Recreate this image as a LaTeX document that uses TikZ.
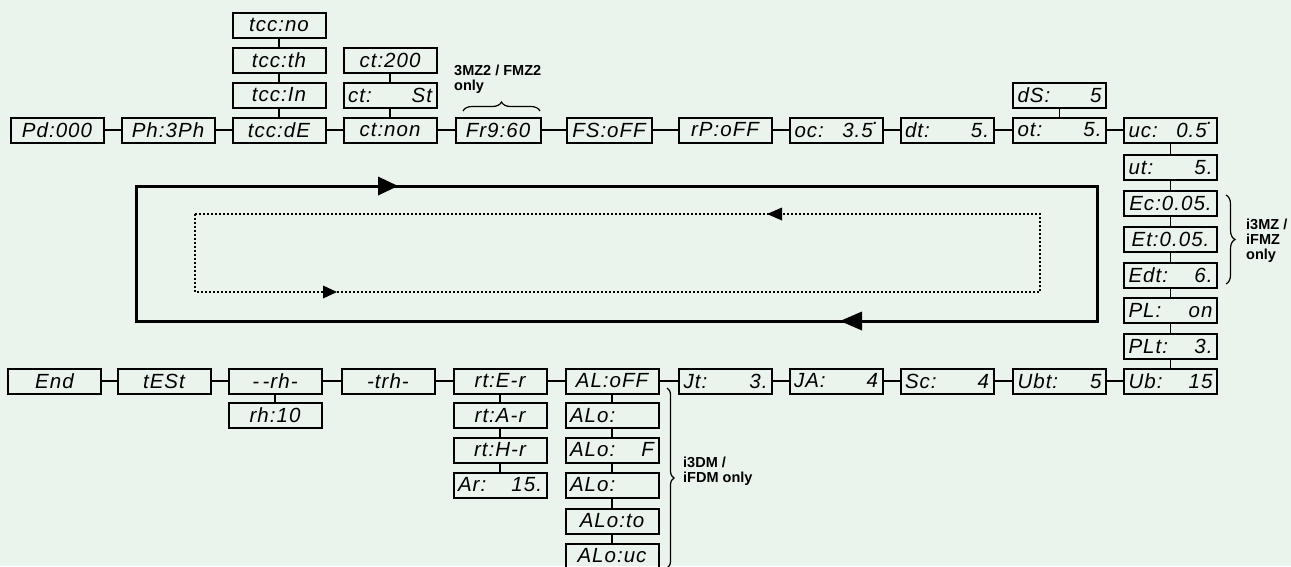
\documentclass[tikz,border=0pt]{standalone}
\usepackage{fontspec}
\setmainfont{Liberation Sans}
\newfontfamily\segfont[LetterSpace=5]{Liberation Sans}
\usetikzlibrary{decorations.pathreplacing}
\definecolor{bgc}{RGB}{234,244,236}
\newcommand{\degdot}{\raisebox{1.2ex}{.}}
\tikzset{
  disp/.style={draw, line width=2pt, minimum width=93pt, minimum height=25pt, inner sep=0pt,
    font=\segfont\itshape\fontsize{20.5}{20.5}\selectfont, text width=84pt, align=center},
  dispn/.style={disp, minimum width=85pt, text width=76pt},
  link/.style={line width=1.5pt},
  lbl/.style={font=\bfseries\fontsize{14.5}{15}\selectfont, align=left, anchor=north west, inner sep=0pt},
  loopline/.style={line width=3pt},
  dotline/.style={line width=1.5pt, dash pattern=on 2pt off 2pt},
  bracestyle/.style={decorate, line width=1.2pt},
}
\begin{document}
\begin{tikzpicture}[x=1pt,y=-1pt]
\fill[bgc] (0,0) rectangle (1291,566);
\useasboundingbox (0,0) rectangle (1291,566);
% top row
\node[disp] (pd) at (57,130) {Pd:000};
\node[disp] (ph) at (168,130) {Ph:3Ph};
\node[disp] (tccde) at (279,130) {tcc:dE};
\node[disp] (tccin) at (279,95) {tcc:In};
\node[disp] (tccth) at (279,60) {tcc:th};
\node[disp] (tccno) at (279,25) {tcc:no};
\node[disp] (ctnon) at (390,130) {ct:non};
\node[disp] (ctst) at (390,95) {ct:\hfill St};
\node[disp] (ct200) at (390,60) {ct:200};
\node[dispn] (fr) at (498,130) {Fr9:60};
\node[dispn] (fs) at (609,130) {FS:oFF};
\node[disp] (rp) at (725,130) {rP:oFF};
\node[disp] (oc) at (836.5,130) {oc:\hfill 3.5\degdot};
\node[disp] (dt) at (947,130) {dt:\hfill 5.};
\node[disp] (ot) at (1059.5,130) {ot:\hfill 5.};
\node[disp] (ds) at (1059.5,95) {dS:\hfill 5};
\node[disp] (uc) at (1170.5,130) {uc:\hfill 0.5\degdot};
% right column
\node[disp] (ut) at (1170.5,167.5) {ut:\hfill 5.};
\node[disp] (ec) at (1170.5,203.5) {Ec:0.05.};
\node[disp] (et) at (1170.5,239.5) {Et:0.05.};
\node[disp] (edt) at (1170.5,275) {Edt:\hfill 6.};
\node[disp] (pl) at (1170.5,310.5) {PL:\hfill on};
\node[disp] (plt) at (1170.5,346) {PLt:\hfill 3.};
\node[disp] (ub) at (1170.5,381) {Ub:\hfill 15};
% bottom row
\node[disp] (end) at (54.5,381) {End};
\node[disp] (test) at (164,381) {tESt};
\node[disp] (rh) at (275,381) {-\,-rh-};
\node[disp] (rh10) at (275,415.5) {rh:10};
\node[disp] (trh) at (388,381) {-trh-};
\node[disp] (rte) at (500,381) {rt:E-r};
\node[disp] (rta) at (500,415.5) {rt:A-r};
\node[disp] (rth) at (500,450) {rt:H-r};
\node[disp] (ar) at (500,485) {Ar:\hfill 15.};
\node[disp] (al) at (612,381) {AL:oFF};
\node[disp] (alo1) at (612,415.5) {ALo:\hfill\null};
\node[disp] (alo2) at (612,450) {ALo:\hfill F};
\node[disp] (alo3) at (612,485) {ALo:\hfill\null};
\node[disp] (alo4) at (612,521) {ALo:to};
\node[disp] (alo5) at (612,556) {ALo:uc};
\node[disp] (jt) at (725.5,381) {Jt:\hfill 3.};
\node[disp] (ja) at (836,381) {JA:\hfill 4};
\node[disp] (sc) at (947,381) {Sc:\hfill 4};
\node[disp] (ubt) at (1059.5,381) {Ubt:\hfill 5};
% links top
\draw[link] (pd) -- (ph);
\draw[link] (ph) -- (tccde);
\draw[link] (tccde) -- (ctnon);
\draw[link] (ctnon) -- (fr);
\draw[link] (fr) -- (fs);
\draw[link] (fs) -- (rp);
\draw[link] (rp) -- (oc);
\draw[link] (oc) -- (dt);
\draw[link] (dt) -- (ot);
\draw[link] (ot) -- (uc);
\draw[link] (tccno) -- (tccth);
\draw[link] (tccth) -- (tccin);
\draw[link] (tccin) -- (tccde);
\draw[link] (ct200) -- (ctst);
\draw[link] (ctst) -- (ctnon);
\draw[link] (ds) -- (ot);
% right column links
\draw[link] (uc) -- (ut);
\draw[link] (ut) -- (ec);
\draw[link] (ec) -- (et);
\draw[link] (et) -- (edt);
\draw[link] (edt) -- (pl);
\draw[link] (pl) -- (plt);
\draw[link] (plt) -- (ub);
% bottom links
\draw[link] (end) -- (test);
\draw[link] (test) -- (rh);
\draw[link] (rh) -- (trh);
\draw[link] (trh) -- (rte);
\draw[link] (rte) -- (al);
\draw[link] (al) -- (jt);
\draw[link] (jt) -- (ja);
\draw[link] (ja) -- (sc);
\draw[link] (sc) -- (ubt);
\draw[link] (ubt) -- (ub);
\draw[link] (rh) -- (rh10);
\draw[link] (rte) -- (rta);
\draw[link] (rta) -- (rth);
\draw[link] (rth) -- (ar);
\draw[link] (al) -- (alo1);
\draw[link] (alo1) -- (alo2);
\draw[link] (alo2) -- (alo3);
\draw[link] (alo3) -- (alo4);
\draw[link] (alo4) -- (alo5);
% loops
\draw[loopline] (136,186) rectangle (1097,321);
\fill (378,176.5) -- (398,186) -- (378,195.5) -- cycle;
\fill (862,311.5) -- (840,321) -- (862,330.5) -- cycle;
\draw[dotline] (195,214) rectangle (1040,292);
\fill (782,207.5) -- (767,214) -- (782,220.5) -- cycle;
\fill (323,285.5) -- (337,292) -- (323,298.5) -- cycle;
% braces and notes
\draw[bracestyle, decoration={brace, amplitude=9pt}] (463,111) -- (540,111);
\node[lbl] (n1) at (454,65) {3MZ2 / FMZ2\\only};
\draw[bracestyle, decoration={brace, amplitude=9pt}] (1226,195) -- (1226,284);
\node[lbl] (n2) at (1246,219) {i3MZ /\\iFMZ\\only};
\draw[bracestyle, decoration={brace, amplitude=7pt}] (667,388) -- (667,568);
\node[lbl] (n3) at (683,457) {i3DM /\\iFDM only};
\end{tikzpicture}
\end{document}
